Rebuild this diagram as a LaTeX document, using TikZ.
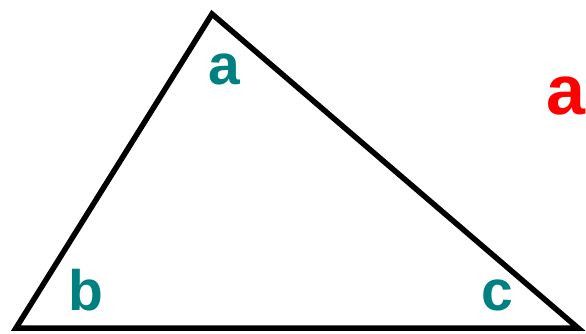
\documentclass[tikz,border=0pt]{standalone}
\usepackage{fontspec}
\setmainfont{Liberation Sans}
\definecolor{angteal}{HTML}{008080}
\begin{document}
\begin{tikzpicture}[x=1pt,y=-1pt,
  edge/.style={draw=black,line width=5.5pt,line join=miter},
  anglbl/.style={text=angteal,font=\bfseries\fontsize{57}{57}\selectfont,inner sep=0pt,anchor=base west},
  sidelbl/.style={text=red,font=\bfseries\fontsize{70}{70}\selectfont,inner sep=0pt,anchor=base east}]
\useasboundingbox (0,0) rectangle (586,334);
\coordinate (A) at (212,14);
\coordinate (B) at (16,328);
\coordinate (C) at (578,328);
\draw[edge] (A) -- (B) -- (C) -- cycle;
\node[anglbl] (la) at (208,85) {a};
\node[anglbl] (lb) at (68,310) {b};
\node[anglbl] (lc) at (481,310) {c};
\node[sidelbl] (ra) at (586,114) {a};
\end{tikzpicture}
\end{document}
